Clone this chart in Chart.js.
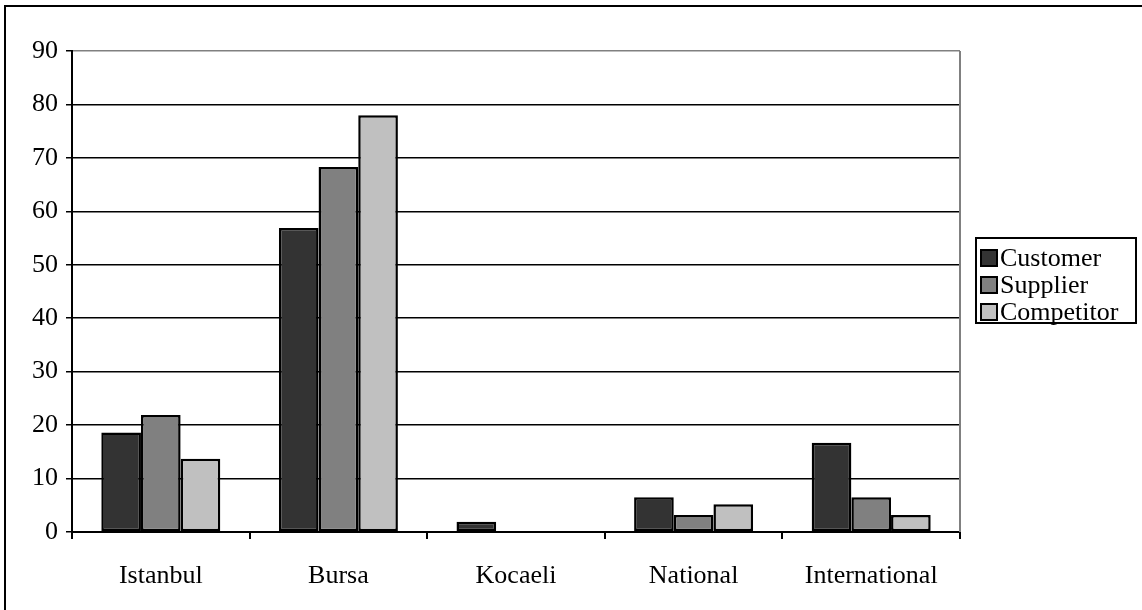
<!DOCTYPE html>
<html>
<head>
<meta charset="utf-8">
<script src="https://cdn.jsdelivr.net/npm/chart.js@4"></script>
<style>
  html, body { margin: 0; padding: 0; background: #fff; }
  canvas { display: block; }
</style>
</head>
<body>
<canvas id="regionChart" width="1142" height="610"></canvas>
<script>
const regions = ['Istanbul', 'Bursa', 'Kocaeli', 'National', 'International'];
const customerData = [18.6, 56.9, 1.9, 6.5, 16.7];
const supplierData = [21.9, 68.3, 0, 3.2, 6.5];
const competitorData = [13.7, 78.0, 0, 5.2, 3.2];
const seriesNames = ['Customer', 'Supplier', 'Competitor'];
const seriesColors = ['#333333', '#808080', '#c0c0c0'];
const yMin = 0, yMax = 90, yStep = 10;

const serif = 'Liberation Serif, Times New Roman, serif';

// frame, plot border and the boxed legend
const decorations = {
    id: 'decorations',
    beforeDraw(chart) {
        const c = chart.ctx;
        c.save();
        c.fillStyle = '#fff';
        c.fillRect(0, 0, chart.width, chart.height);
        c.strokeStyle = '#000';
        c.lineWidth = 2;
        c.strokeRect(5, 6, chart.width + 20, chart.height + 20);
        c.restore();
    },
    afterDraw(chart) {
        const c = chart.ctx;
        const a = chart.chartArea;
        c.save();
        c.strokeStyle = '#808080';
        c.lineWidth = 2;
        c.beginPath();
        c.moveTo(a.right, a.top);
        c.lineTo(a.right, a.bottom);
        c.stroke();

        // legend
        const lx = 976, ly = 238, lw = 160, lh = 85;
        c.strokeStyle = '#000';
        c.lineWidth = 2;
        c.strokeRect(lx, ly, lw, lh);
        c.font = '26px ' + serif;
        c.textBaseline = 'middle';
        chart.data.datasets.forEach(function (ds, i) {
            const y = ly + 20 + i * 27;
            c.fillStyle = ds.backgroundColor;
            c.fillRect(lx + 5, y - 8, 16, 16);
            c.lineWidth = 2;
            c.strokeRect(lx + 5, y - 8, 16, 16);
            c.fillStyle = '#000';
            c.fillText(ds.label, lx + 24, y + 1);
        });
        c.restore();
    }
};

const ctx = document.getElementById('regionChart').getContext('2d');
new Chart(ctx, {
    type: 'bar',
    data: {
        labels: regions,
        datasets: [customerData, supplierData, competitorData].map(function (d, i) {
            return {
                label: seriesNames[i],
                data: d,
                backgroundColor: seriesColors[i],
                borderColor: '#000',
                borderWidth: 2.5,
                borderSkipped: false,
                categoryPercentage: 0.67,
                barPercentage: 1.0
            };
        })
    },
    options: {
        responsive: false,
        animation: false,
        layout: { padding: { top: 51, right: 182, bottom: 0, left: 0 } },
        plugins: {
            legend: { display: false },
            tooltip: { enabled: false }
        },
        scales: {
            x: {
                afterFit(scale) { scale.height = 78; },
                ticks: { color: '#000', font: { family: serif, size: 26 }, padding: 22 },
                grid: {
                    offset: true,
                    drawOnChartArea: false,
                    drawTicks: true,
                    tickLength: 7,
                    color: '#000',
                    lineWidth: 2
                },
                border: { color: '#000', width: 2 }
            },
            y: {
                min: yMin,
                max: yMax,
                afterFit(scale) { scale.width = 72; },
                ticks: {
                    stepSize: yStep,
                    color: '#000',
                    font: { family: serif, size: 26 },
                    padding: 8
                },
                grid: {
                    color: function (c) { return c.tick && c.tick.value === yMax ? '#808080' : '#000'; },
                    tickColor: '#000',
                    lineWidth: 1.5,
                    tickLength: 6
                },
                border: { color: '#000', width: 2 }
            }
        }
    },
    plugins: [decorations]
});
</script>
</body>
</html>
